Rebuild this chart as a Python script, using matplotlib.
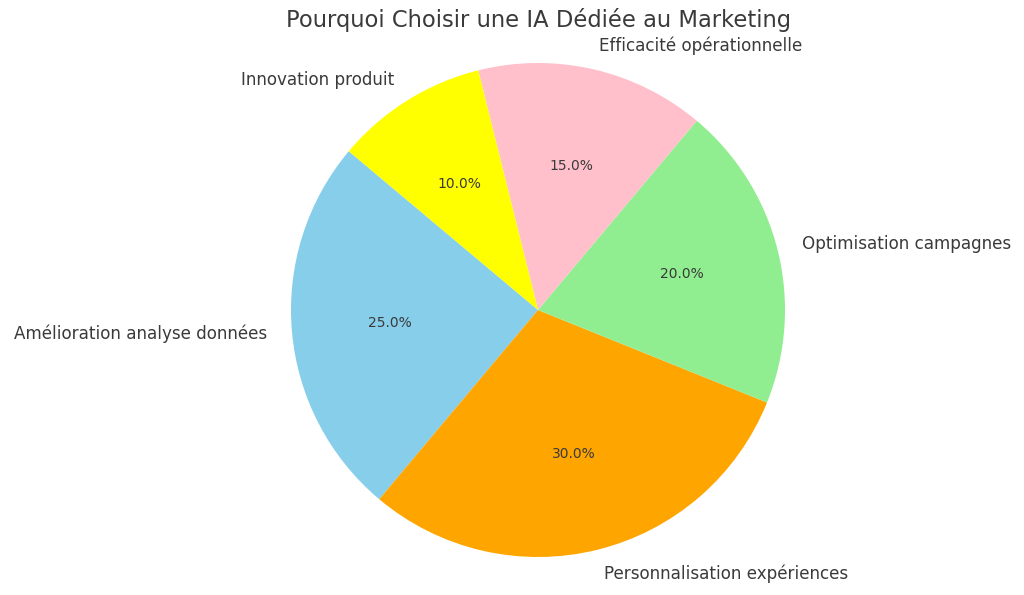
import matplotlib.pyplot as plt

labels = ['Amélioration analyse données', 'Personnalisation expériences',
          'Optimisation campagnes', 'Efficacité opérationnelle', 'Innovation produit']
sizes = [25, 30, 20, 15, 10]
colors = ['skyblue', 'orange', 'lightgreen', 'pink', 'yellow']

plt.rcParams['text.color'] = '#3a3a3a'

W, H = 1024, 595
cx, cy, r = 538, 285, 247  # pie centre and radius in pixels (from bottom)

fig = plt.figure(figsize=(W / 100, H / 100), dpi=100)
ax = fig.add_axes([0, 0, 1, 1])
ax.pie(sizes, labels=labels, colors=colors, autopct='%1.1f%%', startangle=140,
       textprops={'fontsize': 12.1})
for t in ax.texts:
    if t.get_text().endswith('%'):
        t.set_fontsize(10)
ax.set_xlim(-cx / r, (W - cx) / r)
ax.set_ylim(-cy / r, (H - cy) / r)
ax.set_aspect('auto')
ax.axis('off')
fig.text(cx / W, 1 - 20 / H, 'Pourquoi Choisir une IA Dédiée au Marketing',
         fontsize=16.3, color='#3a3a3a', ha='center', va='center')
fig.savefig('out.png', dpi=100)
